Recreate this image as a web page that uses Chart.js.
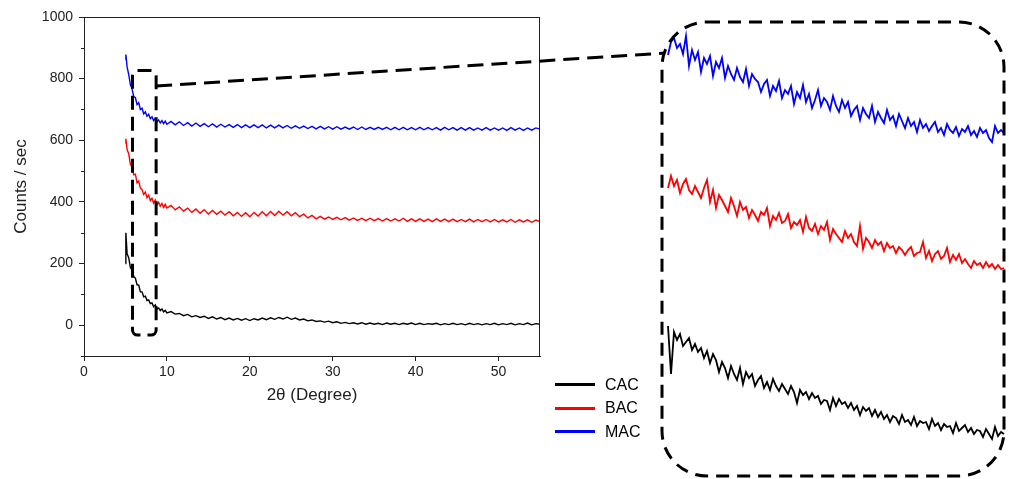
<!DOCTYPE html>
<html>
<head>
<meta charset="utf-8">
<script src="https://cdn.jsdelivr.net/npm/chart.js@4/dist/chart.umd.min.js"></script>
<style>
  html, body { margin: 0; padding: 0; background: #fff; }
  #wrap { position: relative; width: 1009px; height: 479px; overflow: hidden; }
  #wrap canvas { position: absolute; left: 0; top: 0; }
  #zoom { pointer-events: none; }
  #legend { position: absolute; left: 555px; top: 373px; font-family: 'Liberation Sans', Arial, sans-serif; font-size: 16px; color: #000; }
  #legend .row { height: 23.5px; display: flex; align-items: center; }
  #legend .swatch { width: 40px; height: 3px; margin-right: 10px; }
</style>
</head>
<body>
<div id="wrap">
  <canvas id="main" width="1009" height="479"></canvas>
  <canvas id="zoom" width="1009" height="479"></canvas>
  <div id="legend"></div>
</div>
<script>
'use strict';

// series names / colours
var seriesNames = ['CAC', 'BAC', 'MAC'];
var seriesColors = ['#000000', '#ff0000', '#0000ff'];

// 2theta (degree)
var angles = [5, 5.05, 5.2, 5.4, 5.6, 5.8, 6, 6.2, 6.4, 6.6, 6.8, 7, 7.2, 7.4, 7.6, 7.8, 8, 8.2, 8.4, 8.6, 8.8, 9, 9.2, 9.4, 9.6, 9.8, 10,
  10.5, 11, 11.5, 12, 12.5, 13, 13.5, 14, 14.5, 15, 15.5, 16, 16.5, 17, 17.5, 18, 18.5, 19, 19.5, 20,
  20.5, 21, 21.5, 22, 22.5, 23, 23.5, 24, 24.5, 25, 25.5, 26, 26.5, 27, 27.5, 28, 28.5, 29, 29.5, 30,
  30.5, 31, 31.5, 32, 32.5, 33, 33.5, 34, 34.5, 35, 35.5, 36, 36.5, 37, 37.5, 38, 38.5, 39, 39.5, 40,
  40.5, 41, 41.5, 42, 42.5, 43, 43.5, 44, 44.5, 45, 45.5, 46, 46.5, 47, 47.5, 48, 48.5, 49, 49.5, 50,
  50.5, 51, 51.5, 52, 52.5, 53, 53.5, 54, 54.5, 55];

// counts / sec
var cac = [200, 300, 232, 218, 186, 180, 158, 152, 131, 130, 108, 108, 92, 94, 80, 82, 70, 72, 60, 66, 52, 56, 47, 53, 43, 48, 40,
  44, 36, 38, 31, 35, 27, 31, 25, 29, 22,
  27, 20, 25, 18, 23, 17, 22, 16, 21, 15,
  21, 17, 23, 18, 24, 19, 25, 20, 26, 19,
  23, 17, 20, 14, 17, 12, 14, 10, 13, 8,
  11, 6, 9, 5, 8, 4, 8, 3, 7, 3,
  6, 2, 7, 3, 6, 2, 6, 3, 7, 2,
  6, 2, 5, 3, 6, 1, 5, 2, 6, 2,
  5, 1, 6, 2, 5, 1, 5, 2, 6, 1,
  5, 2, 6, 1, 5, 2, 7, 1, 5, 3];

var bac = [590, 605, 570, 556, 520, 516, 488, 490, 462, 468, 445, 440, 424, 432, 414, 422, 404, 412, 396, 406, 390, 399, 386, 395, 382, 392, 380,
  389, 374, 384, 370, 380, 366, 377, 363, 375, 361,
  372, 360, 370, 357, 368, 355, 366, 353, 365, 352,
  366, 354, 368, 355, 369, 356, 370, 357, 368, 355,
  365, 352, 360, 348, 356, 345, 353, 344, 351, 343,
  350, 342, 349, 341, 348, 340, 347, 339, 347, 339,
  346, 338, 346, 338, 345, 338, 347, 337, 345, 337,
  345, 337, 344, 336, 345, 337, 344, 336, 344, 336,
  343, 336, 344, 335, 343, 336, 343, 335, 343, 335,
  342, 335, 343, 334, 342, 335, 342, 334, 341, 336];

var mac = [862, 878, 838, 812, 780, 766, 742, 738, 716, 722, 700, 704, 686, 692, 678, 684, 670, 676, 664, 671, 660, 666, 656, 664, 654, 662, 652,
  661, 650, 660, 648, 657, 646, 656, 645, 654, 644,
  653, 643, 652, 643, 651, 642, 651, 641, 650, 641,
  650, 641, 650, 640, 649, 640, 649, 640, 648, 639,
  647, 639, 646, 638, 645, 637, 645, 637, 644, 636,
  644, 636, 643, 636, 643, 635, 643, 635, 642, 635,
  642, 635, 642, 634, 642, 634, 642, 634, 641, 634,
  642, 634, 641, 634, 641, 633, 642, 634, 641, 633,
  641, 633, 641, 633, 640, 633, 641, 633, 640, 633,
  640, 632, 641, 633, 640, 632, 640, 633, 640, 636];

// enlarged view (arbitrary panel units, each trace shifted like the original inset)
var zoomCac = [152, 104, 146, 138, 144, 132, 136, 140, 128, 134,
  126, 130, 120, 127, 115, 124, 118, 106, 116, 110,
  100, 112, 104, 98, 110, 94, 106, 100, 104, 92,
  98, 102, 90, 96, 88, 99, 92, 87, 94, 89,
  84, 92, 86, 75, 88, 83, 86, 79, 85, 80,
  82, 74, 78, 77, 68, 80, 72, 79, 74, 76,
  70, 75, 68, 72, 63, 71, 67, 70, 62, 68,
  61, 66, 59, 63, 56, 62, 60, 54, 63, 56,
  58, 53, 61, 52, 57, 55, 56, 49, 59, 52,
  55, 48, 54, 51, 52, 45, 55, 47, 50, 53,
  46, 50, 44, 48, 47, 41, 49, 44, 39, 51,
  42, 46, 44];

var zoomBac = [290, 302, 292, 298, 285, 294, 299, 288, 284, 292,
  286, 280, 290, 298, 276, 288, 270, 283, 278, 272,
  266, 280, 272, 262, 276, 268, 271, 260, 268, 263,
  257, 266, 263, 270, 252, 262, 258, 265, 255, 257,
  264, 250, 256, 253, 258, 246, 261, 250, 247, 254,
  244, 252, 248, 256, 238, 249, 244, 240, 236, 247,
  240, 244, 236, 232, 252, 229, 240, 236, 230, 238,
  233, 236, 227, 235, 230, 232, 225, 231, 228, 223,
  228, 231, 222, 225, 226, 236, 220, 227, 217, 224,
  227, 219, 222, 230, 216, 223, 218, 224, 215, 219,
  214, 210, 217, 213, 215, 210, 216, 211, 214, 209,
  213, 209, 210];

var zoomMac = [423, 436, 440, 430, 434, 424, 442, 412, 428, 418,
  426, 406, 420, 414, 422, 402, 416, 410, 420, 400,
  412, 404, 398, 410, 401, 396, 409, 392, 404, 399,
  396, 386, 394, 398, 382, 392, 387, 397, 380, 388,
  384, 392, 374, 386, 380, 393, 376, 384, 370, 378,
  388, 372, 380, 376, 368, 382, 372, 366, 378, 370,
  376, 362, 368, 372, 358, 370, 364, 360, 372, 356,
  366, 360, 355, 368, 358, 362, 352, 364, 357, 350,
  360, 352, 356, 346, 358, 350, 354, 347, 352, 356,
  346, 350, 343, 354, 348, 345, 351, 342, 349, 346,
  352, 343, 347, 341, 350, 345, 348, 340, 336, 352,
  345, 348, 345];

var xTicks = [0, 10, 20, 30, 40, 50];
var yTicks = [0, 200, 400, 600, 800, 1000];

var font = "'Liberation Sans', Arial, sans-serif";

function pairs(values) {
  return values.map(function (v, i) { return { x: angles[i], y: v }; });
}

function roundedPath(ctx, x, y, w, h, r) {
  ctx.beginPath();
  ctx.moveTo(x + r, y);
  ctx.lineTo(x + w - r, y);
  ctx.arcTo(x + w, y, x + w, y + r, r);
  ctx.lineTo(x + w, y + h - r);
  ctx.arcTo(x + w, y + h, x + w - r, y + h, r);
  ctx.lineTo(x + r, y + h);
  ctx.arcTo(x, y + h, x, y + h - r, r);
  ctx.lineTo(x, y + r);
  ctx.arcTo(x, y, x + r, y, r);
  ctx.closePath();
}

// frame around the plot + short minor ticks on y
var framePlugin = {
  id: 'frame',
  afterDraw: function (chart) {
    var ctx = chart.ctx, a = chart.chartArea, ys = chart.scales.y;
    ctx.save();
    ctx.strokeStyle = '#222';
    ctx.lineWidth = 1;
    ctx.strokeRect(a.left + 0.5, a.top + 0.5, a.right - a.left - 1, a.bottom - a.top);
    for (var v = -100; v < 1000; v += 200) {
      var py = Math.round(ys.getPixelForValue(v)) + 0.5;
      ctx.beginPath();
      ctx.moveTo(a.left - 3, py);
      ctx.lineTo(a.left, py);
      ctx.stroke();
    }
    ctx.restore();
  }
};

var mainChart = new Chart(document.getElementById('main'), {
  type: 'line',
  data: {
    datasets: [
      { label: seriesNames[0], data: pairs(cac), borderColor: seriesColors[0] },
      { label: seriesNames[1], data: pairs(bac), borderColor: seriesColors[1] },
      { label: seriesNames[2], data: pairs(mac), borderColor: seriesColors[2] }
    ]
  },
  options: {
    responsive: false,
    animation: false,
    layout: { padding: { left: 0, top: 17, right: 469, bottom: 73 } },
    elements: { point: { radius: 0 }, line: { borderWidth: 1.4, tension: 0 } },
    plugins: { legend: { display: false }, tooltip: { enabled: false } },
    scales: {
      x: {
        type: 'linear', min: 0, max: 55,
        afterFit: function (s) { s.height = 50; },
        afterBuildTicks: function (s) { s.ticks = xTicks.map(function (v) { return { value: v }; }); },
        grid: { drawOnChartArea: false, tickLength: 5, color: '#222' },
        border: { color: '#222', width: 1 },
        ticks: { color: '#222', font: { family: font, size: 14 }, padding: 3, maxRotation: 0, callback: function (v) { return String(v); } },
        title: { display: true, text: '2θ (Degree)', color: '#222', font: { family: font, size: 17 }, padding: 0 }
      },
      y: {
        type: 'linear', min: -100, max: 1000,
        afterFit: function (s) { s.width = 84; },
        afterBuildTicks: function (s) { s.ticks = yTicks.map(function (v) { return { value: v }; }); },
        grid: { drawOnChartArea: false, tickLength: 5, color: '#222' },
        border: { color: '#222', width: 1 },
        ticks: { color: '#222', font: { family: font, size: 14 }, padding: 6, callback: function (v) { return String(v); } },
        title: { display: true, text: 'Counts / sec', color: '#222', font: { family: font, size: 17 }, padding: { top: 11, bottom: 0 } }
      }
    }
  },
  plugins: [framePlugin]
});

// dashed selection box, connector and rounded inset frame
var calloutPlugin = {
  id: 'callout',
  afterDraw: function (chart) {
    var ctx = chart.ctx, a = chart.chartArea;
    var mx = mainChart.scales.x, my = mainChart.scales.y;
    var x0 = mx.getPixelForValue(5.85), x1 = mx.getPixelForValue(8.7);
    var y0 = my.getPixelForValue(826), y1 = my.getPixelForValue(-32);
    ctx.save();
    ctx.strokeStyle = '#000';
    ctx.lineWidth = 3;
    ctx.setLineDash([14, 7]);
    roundedPath(ctx, x0, y0, x1 - x0, y1 - y0, 5);
    ctx.stroke();

    ctx.setLineDash([16, 8]);
    ctx.beginPath();
    ctx.moveTo(x1, my.getPixelForValue(776));
    ctx.lineTo(a.left - 3, a.top + 35);
    ctx.stroke();

    ctx.setLineDash([13, 8]);
    roundedPath(ctx, a.left - 6, a.top + 4, a.right - a.left + 6, a.bottom - a.top - 6, 45);
    ctx.stroke();
    ctx.restore();
  }
};

new Chart(document.getElementById('zoom'), {
  type: 'line',
  data: {
    labels: zoomMac.map(function (_, i) { return i; }),
    datasets: [
      { label: seriesNames[0], data: zoomCac, borderColor: seriesColors[0] },
      { label: seriesNames[1], data: zoomBac, borderColor: seriesColors[1] },
      { label: seriesNames[2], data: zoomMac, borderColor: seriesColors[2] }
    ]
  },
  options: {
    responsive: false,
    animation: false,
    layout: { padding: { left: 668, top: 18, right: 5, bottom: 1 } },
    elements: { point: { radius: 0 }, line: { borderWidth: 1.8, tension: 0 } },
    plugins: { legend: { display: false }, tooltip: { enabled: false } },
    scales: {
      x: { display: false, offset: false },
      y: { display: false, min: 0, max: 460 }
    }
  },
  plugins: [calloutPlugin]
});

// legend
var legend = document.getElementById('legend');
seriesNames.forEach(function (name, i) {
  var row = document.createElement('div');
  row.className = 'row';
  row.innerHTML = '<span class="swatch" style="background:' + seriesColors[i] + '"></span><span>' + name + '</span>';
  legend.appendChild(row);
});
</script>
</body>
</html>
